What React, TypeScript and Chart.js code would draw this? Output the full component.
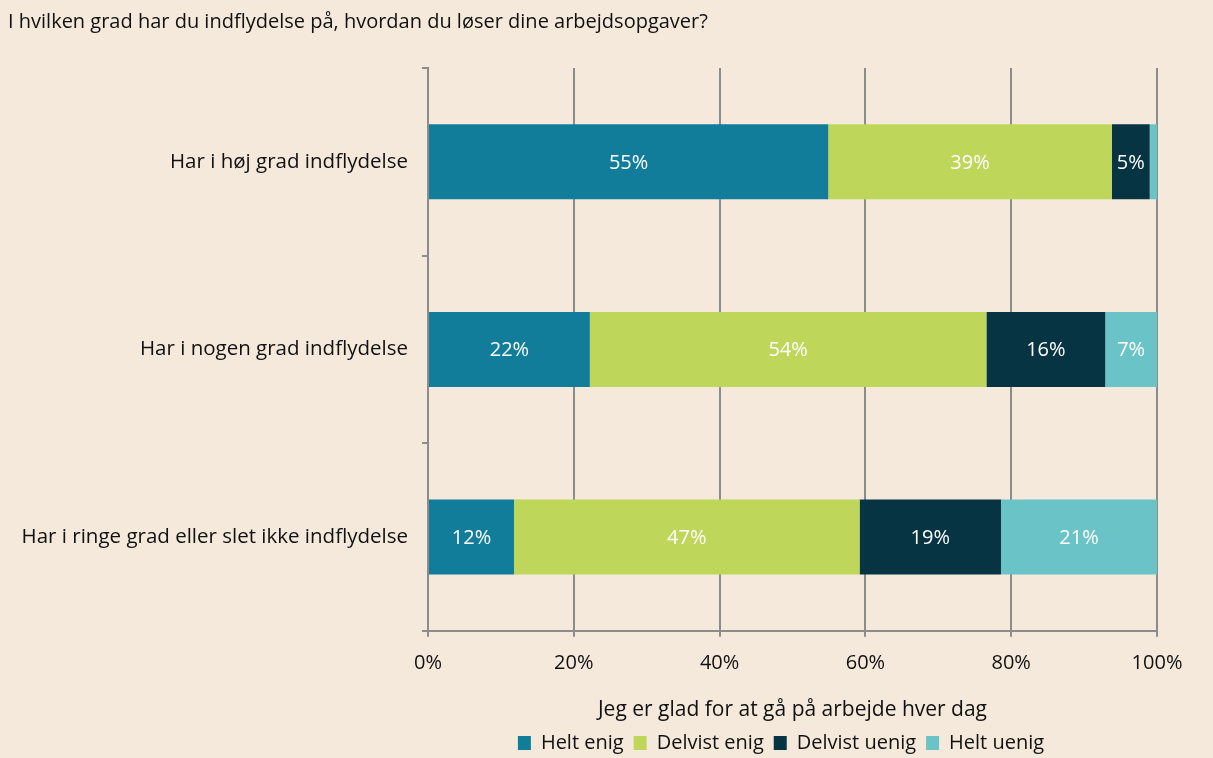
import React, { useEffect, useRef } from "react";
import { Chart, registerables } from "chart.js";

Chart.register(...registerables);

const TITLE = "I hvilken grad har du indflydelse på, hvordan du løser dine arbejdsopgaver?";
const X_TITLE = "Jeg er glad for at gå på arbejde hver dag";
const categories = [
  "Har i høj grad indflydelse",
  "Har i nogen grad indflydelse",
  "Har i ringe grad eller slet ikke indflydelse",
];
const seriesNames = ["Helt enig", "Delvist enig", "Delvist uenig", "Helt uenig"];
const heltEnig = [54.9, 22.2, 11.8];
const delvistEnig = [38.9, 54.4, 47.4];
const delvistUenig = [5.2, 16.3, 19.4];
const heltUenig = [1.0, 7.1, 21.4];
const xTicks = [0, 20, 40, 60, 80, 100];

const colors = ["#117d9a", "#bed75a", "#063443", "#6ac3c6"];
const BG = "#f5e9dc";
const GRID = "#8c8c8c";
const FONT = "'Open Sans', sans-serif";

const dataLabelPlugin = {
  id: "dataLabels",
  afterDatasetsDraw(chart: any) {
    const ctx = chart.ctx;
    ctx.save();
    ctx.font = "20px " + FONT;
    ctx.fillStyle = "#ffffff";
    ctx.textAlign = "center";
    ctx.textBaseline = "middle";
    chart.data.datasets.forEach((ds: any, di: number) => {
      const meta = chart.getDatasetMeta(di);
      meta.data.forEach((el: any, i: number) => {
        const v = ds.data[i];
        if (v < 3) return;
        const p = el.getCenterPoint();
        ctx.fillText(Math.round(v) + "%", p.x, p.y + 1);
      });
    });
    ctx.restore();
  },
};

const titlePlugin = {
  id: "topTitle",
  afterDraw(chart: any) {
    const ctx = chart.ctx;
    ctx.save();
    ctx.font = "20px " + FONT;
    ctx.fillStyle = "#111111";
    ctx.textAlign = "left";
    ctx.textBaseline = "middle";
    ctx.fillText(TITLE, 8, 22);
    ctx.restore();
  },
};

const legendShiftPlugin = {
  id: "legendShift",
  beforeLayout(chart: any) {
    const lg = chart.legend;
    if (lg && !lg._patchedFit) {
      const orig = lg.fit.bind(lg);
      lg.fit = function () {
        orig();
        this.height -= 5;
      };
      lg._patchedFit = true;
    }
  },
  afterLayout(chart: any) {
    const lg = chart.legend;
    if (lg) {
      lg.left = chart.chartArea.left - 23;
      lg.right = chart.chartArea.right;
    }
  },
};

export default function App() {
  const ref = useRef<HTMLCanvasElement | null>(null);
  useEffect(() => {
    document.body.style.margin = "0";
    const values = [heltEnig, delvistEnig, delvistUenig, heltUenig];
    const chart = new Chart(ref.current as HTMLCanvasElement, {
      type: "bar",
      data: {
        labels: categories,
        datasets: seriesNames.map((name, i) => ({
          label: name,
          data: values[i],
          backgroundColor: colors[i],
          borderWidth: 0,
          categoryPercentage: 1,
          barPercentage: 0.4,
        })),
      },
      options: {
        indexAxis: "y",
        animation: false,
        responsive: false,
        layout: { padding: { top: 68, right: 56, left: 0, bottom: 0 } },
        scales: {
          x: {
            stacked: true,
            min: 0,
            max: 100,
            afterBuildTicks: (scale: any) => {
              scale.ticks = xTicks.map((v) => ({ value: v }));
            },
            ticks: {
              callback: (v: any) => v + "%",
              color: "#111111",
              font: { family: FONT, size: 20 },
              padding: 14,
              maxRotation: 0,
            },
            grid: { color: GRID, lineWidth: 2, tickLength: 6, tickColor: GRID },
            border: { color: GRID, width: 2 },
            title: {
              display: true,
              text: X_TITLE,
              color: "#111111",
              font: { family: FONT, size: 21 },
              padding: { top: 9, bottom: 0 },
            },
          },
          y: {
            stacked: true,
            afterFit: (scale: any) => {
              scale.width = 428;
            },
            ticks: {
              color: "#111111",
              font: { family: FONT, size: 20.5 },
              padding: 14,
            },
            grid: {
              offset: true,
              drawOnChartArea: false,
              drawTicks: true,
              tickLength: 6,
              color: GRID,
              lineWidth: 2,
            },
            border: { color: GRID, width: 2 },
          },
        },
        plugins: {
          legend: {
            position: "bottom",
            labels: {
              boxWidth: 13,
              boxHeight: 14,
              color: "#111111",
              font: { family: FONT, size: 20 },
              padding: 10,
            },
          },
          tooltip: { enabled: false },
        },
      },
      plugins: [dataLabelPlugin, titlePlugin, legendShiftPlugin],
    } as any);
    return () => chart.destroy();
  }, []);
  return (
    <div style={{ width: 1213, height: 758, background: BG }}>
      <canvas ref={ref} width={1213} height={758} />
    </div>
  );
}
